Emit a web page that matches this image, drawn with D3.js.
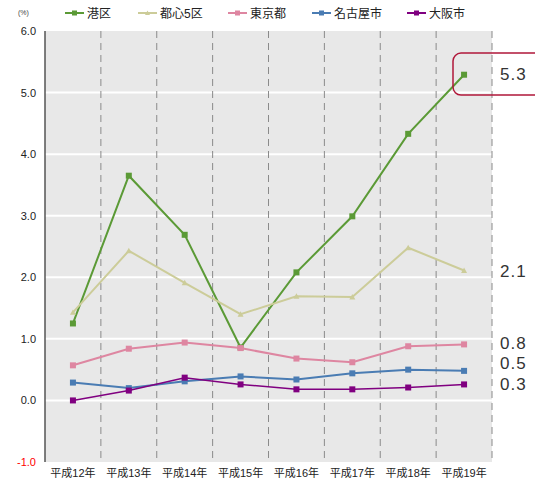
<!DOCTYPE html>
<html>
<head>
<meta charset="utf-8">
<script src="https://cdn.jsdelivr.net/npm/d3@7"></script>
<style>
body { margin:0; background:#fff; }
text { font-family: "Liberation Sans", "Noto Sans CJK JP", sans-serif; }
</style>
</head>
<body>
<svg width="535" height="484"></svg>
<script>
var years = ['平成12年','平成13年','平成14年','平成15年','平成16年','平成17年','平成18年','平成19年'];
var yTicks = [-1,0,1,2,3,4,5,6];

var minato   = [1.25, 3.65, 2.69, 0.86, 2.08, 2.99, 4.33, 5.29];
var toshin5  = [1.43, 2.43, 1.91, 1.40, 1.69, 1.68, 2.48, 2.11];
var tokyo    = [0.57, 0.84, 0.94, 0.85, 0.68, 0.62, 0.88, 0.91];
var nagoya   = [0.29, 0.20, 0.31, 0.39, 0.34, 0.44, 0.50, 0.48];
var osaka    = [0.00, 0.16, 0.37, 0.26, 0.18, 0.18, 0.21, 0.26];

var endLabels = ['5.3','2.1','0.8','0.5','0.3'];
var endLabelVals = [5.3, 2.1, 0.94, 0.6, 0.26];

var series = [
  {name:'港区',    values:minato,  color:'#5b9a36', w:2,   marker:'square'},
  {name:'都心5区', values:toshin5, color:'#cccc99', w:2,   marker:'triangle'},
  {name:'東京都',  values:tokyo,   color:'#de86a1', w:2,   marker:'square'},
  {name:'名古屋市',values:nagoya,  color:'#4a7cb3', w:2,   marker:'square'},
  {name:'大阪市',  values:osaka,   color:'#800080', w:1.5, marker:'square'}
];

var svg = d3.select('svg');

var x = d3.scaleBand().domain(years).range([45,492]);
var y = d3.scaleLinear().domain([-1,6]).range([462,31]);

// plot background
svg.append('rect')
  .attr('x',45).attr('y',y(6))
  .attr('width',492-45).attr('height',y(-1)-y(6))
  .attr('fill','#e8e8e8');

// horizontal grid
svg.selectAll('.hgrid')
  .data(yTicks.filter(function(d){ return d>-1 && d<6; }))
  .enter().append('line')
  .attr('x1',45).attr('x2',492)
  .attr('y1',function(d){ return y(d); })
  .attr('y2',function(d){ return y(d); })
  .attr('stroke','#fff').attr('stroke-width',2);

// vertical dashed separators
svg.selectAll('.vgrid')
  .data(years)
  .enter().append('line')
  .attr('x1',function(d){ return x(d)+x.bandwidth(); })
  .attr('x2',function(d){ return x(d)+x.bandwidth(); })
  .attr('y1',y(6)).attr('y2',y(-1))
  .attr('stroke','#8a8a8a').attr('stroke-width',1)
  .attr('stroke-dasharray','7,5');

// left axis line
svg.append('line')
  .attr('x1',45).attr('x2',45)
  .attr('y1',y(6)).attr('y2',y(-1))
  .attr('stroke','#555').attr('stroke-width',1.5);

// y labels
svg.selectAll('.ylab')
  .data(yTicks)
  .enter().append('text')
  .attr('x',36)
  .attr('y',function(d){ return y(d)+4; })
  .attr('text-anchor','end')
  .attr('font-size',11)
  .attr('fill',function(d){ return d<0 ? '#ff0000' : '#222'; })
  .text(function(d){ return d.toFixed(1); });

// x labels
svg.selectAll('.xlab')
  .data(years)
  .enter().append('text')
  .attr('x',function(d){ return x(d)+x.bandwidth()/2; })
  .attr('y',477)
  .attr('text-anchor','middle')
  .attr('font-size',11)
  .attr('fill','#222')
  .text(function(d){ return d; });

var cx = function(d,i){ return x(years[i])+x.bandwidth()/2; };

function drawMarker(g, type, color, px, py, s){
  if (type=='triangle') {
    g.append('path')
      .attr('d','M'+px+','+(py-s)+'L'+(px+s)+','+(py+s*0.8)+'L'+(px-s)+','+(py+s*0.8)+'Z')
      .attr('fill',color);
  } else {
    g.append('rect')
      .attr('x',px-s).attr('y',py-s)
      .attr('width',s*2).attr('height',s*2)
      .attr('fill',color);
  }
}

series.forEach(function(s){
  var line = d3.line()
    .x(cx)
    .y(function(d){ return y(d); });
  svg.append('path')
    .datum(s.values)
    .attr('d',line)
    .attr('fill','none')
    .attr('stroke',s.color)
    .attr('stroke-width',s.w);
  var g = svg.append('g');
  s.values.forEach(function(v,i){
    drawMarker(g, s.marker, s.color, cx(v,i), y(v), 3);
  });
});

// legend
svg.append('text')
  .attr('x',18).attr('y',15)
  .attr('font-size',7).attr('fill','#444')
  .text('(%)');

var legX = [65,138,228,312,407];
series.forEach(function(s,i){
  var lx = legX[i];
  svg.append('line')
    .attr('x1',lx).attr('x2',lx+19)
    .attr('y1',13).attr('y2',13)
    .attr('stroke',s.color).attr('stroke-width',2);
  drawMarker(svg, s.marker, s.color, lx+9.5, 13, 2.5);
  svg.append('text')
    .attr('x',lx+22).attr('y',17.5)
    .attr('font-size',12)
    .attr('font-family','"Noto Sans CJK JP", sans-serif')
    .attr('fill','#222')
    .text(s.name);
});

// highlight box for 港区
svg.append('rect')
  .attr('x',453).attr('y',y(5.3)-21)
  .attr('width',110).attr('height',42)
  .attr('rx',8).attr('ry',8)
  .attr('fill','none')
  .attr('stroke','#b0173a').attr('stroke-width',1.5);

// end value labels
svg.selectAll('.endlab')
  .data(endLabels)
  .enter().append('text')
  .attr('x',500)
  .attr('y',function(d,i){ return y(endLabelVals[i])+6; })
  .attr('font-size',17)
  .attr('letter-spacing',1)
  .attr('fill','#333')
  .text(function(d){ return d; });
</script>
</body>
</html>
